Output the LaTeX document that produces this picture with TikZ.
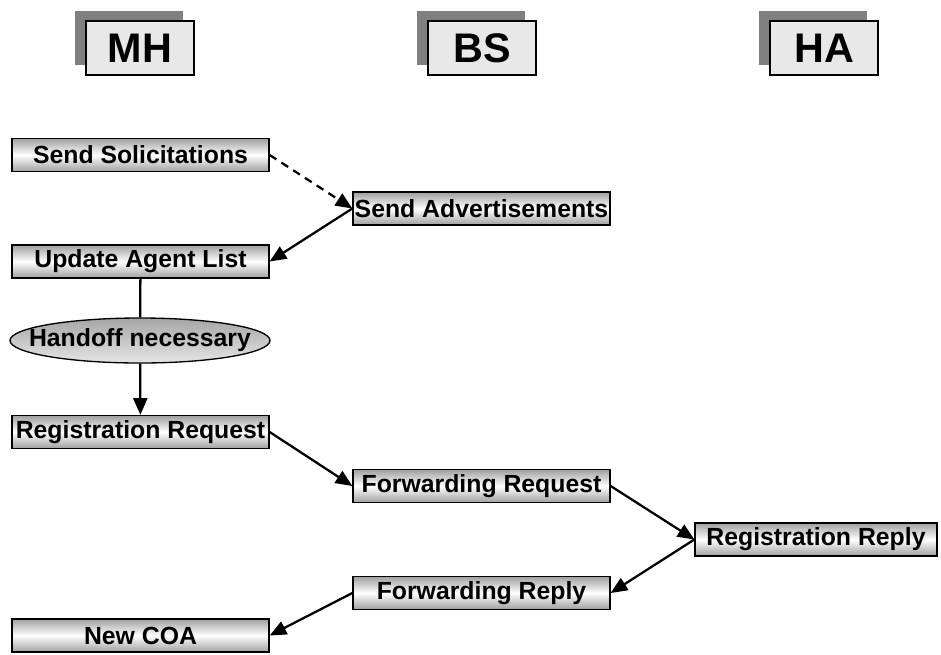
\documentclass[tikz,border=0pt]{standalone}
\usepackage{fontspec}
\setmainfont{Liberation Sans}
\usetikzlibrary{positioning, arrows.meta, shapes.geometric, shadows}

\begin{document}
\begin{tikzpicture}[x=0.75pt, y=-0.75pt, font=\bfseries\fontsize{18.6}{20}\selectfont,
    actor/.style={draw=black, line width=1pt, fill=gray!18, minimum width=81pt,
      minimum height=40.5pt, inner sep=0pt, font=\bfseries\fontsize{31}{34}\selectfont,
      drop shadow={shadow xshift=-8.25pt, shadow yshift=7.5pt, fill=gray, opacity=1}},
    msg/.style={draw=black, line width=1pt, top color=gray!75, bottom color=gray!75,
      middle color=white, minimum width=192.75pt, minimum height=24.75pt, inner sep=0pt},
    decision/.style={ellipse, draw=black, line width=1pt, top color=gray!70,
      bottom color=gray!20, minimum width=195pt, minimum height=33.75pt,
      inner xsep=-3cm, inner ysep=-1cm},
    arr/.style={-{Triangle[length=12.5pt, width=10.5pt]}, line width=1.7pt},
    link/.style={line width=1.7pt}]
    \useasboundingbox (0,0) rectangle (941,654);
    % entities
    \node[actor] (mh) at (140,48) {MH};
    \node[actor] (bs) at (482,48) {BS};
    \node[actor] (ha) at (824,48) {HA};
    % steps
    \node[msg] (sol) at (140.5,155) {Send Solicitations};
    \node[msg] (adv) at (481.5,208.5) {Send Advertisements};
    \node[msg] (upd) at (140.5,261.5) {Update Agent List};
    \node[decision] (hand) at (140,340.5) {Handoff necessary};
    \node[msg] (rreq) at (140.5,432) {Registration Request};
    \node[msg] (freq) at (481.5,486) {Forwarding Request};
    \node[msg, minimum width=181.5pt] (rrep) at (816,539.5) {Registration Reply};
    \node[msg] (frep) at (481.5,593) {Forwarding Reply};
    \node[msg] (coa) at (140.5,635.5) {New COA};
    % messages
    \draw[arr, dash pattern=on 6pt off 4.5pt] (sol.east) -- (adv.west);
    \draw[arr] (adv.west) -- (upd.east);
    \draw[link] (upd) -- (hand);
    \draw[arr] (hand) -- (rreq);
    \draw[arr] (rreq.east) -- (freq.west);
    \draw[arr] (freq.east) -- (rrep.west);
    \draw[arr] (rrep.west) -- (frep.east);
    \draw[arr] (frep.west) -- (coa.east);
\end{tikzpicture}
\end{document}
